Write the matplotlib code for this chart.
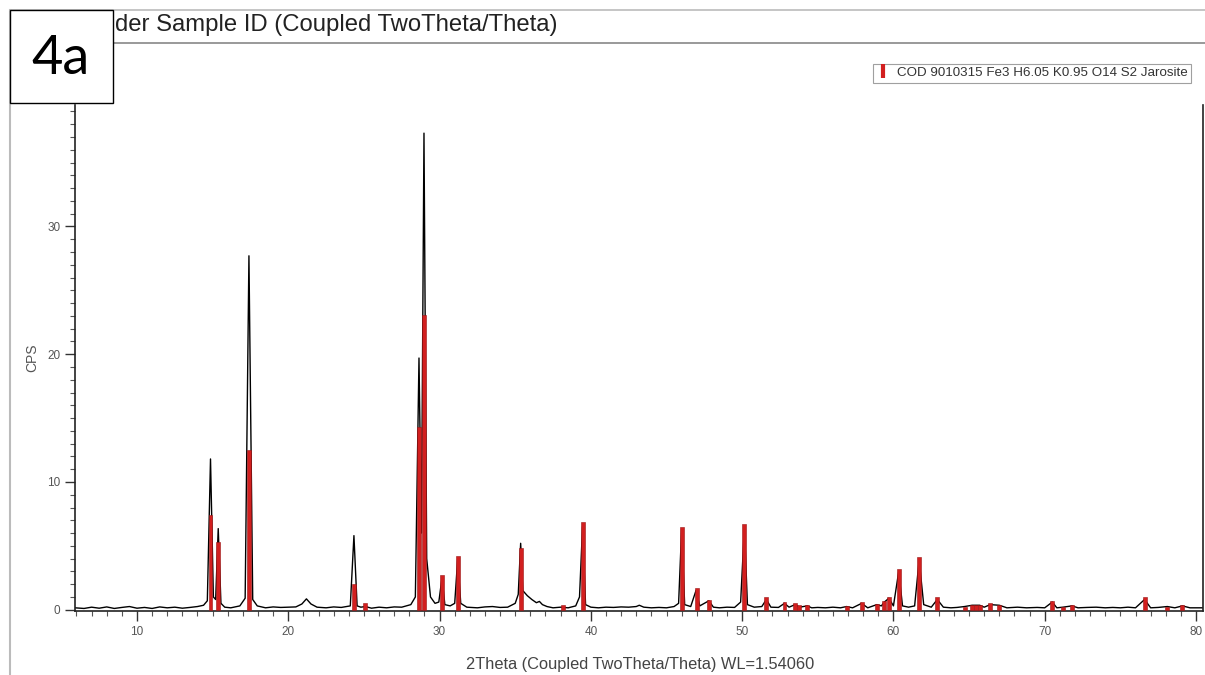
import matplotlib
matplotlib.use('Agg')
import matplotlib.pyplot as plt
from matplotlib.patches import Rectangle
from matplotlib.lines import Line2D
from matplotlib.ticker import MultipleLocator

plt.rcParams['font.family'] = ['Liberation Sans', 'DejaVu Sans']

# measured scan (2theta in degrees, counts per second)
scan_2theta = [5.9, 6.5, 7.0, 7.5, 8.0, 8.5, 9.0, 9.5, 10.0, 10.5, 11.0, 11.5, 12.0, 12.5, 13.0, 13.5, 14.0, 14.4,
               14.65, 14.86, 15.05, 15.2, 15.37, 15.55, 15.8, 16.2, 16.8, 17.15, 17.4, 17.65, 17.95, 18.5, 19.0,
               19.5, 20.0, 20.5, 20.9, 21.2, 21.5, 21.9, 22.5, 23.0, 23.5, 24.1, 24.34, 24.55, 24.8, 25.1, 25.5,
               26.0, 26.5, 27.0, 27.5, 28.1, 28.4, 28.64, 28.8, 28.97, 29.15, 29.4, 29.7, 29.95, 30.16, 30.35,
               30.7, 31.0, 31.2, 31.4, 31.8, 32.5, 33.0, 33.5, 34.0, 34.5, 35.0, 35.2, 35.36, 35.5, 35.8, 36.1,
               36.4, 36.6, 36.8, 37.1, 37.5, 38.0, 38.5, 39.0, 39.25, 39.45, 39.65, 40.0, 40.5, 41.0, 41.5, 42.0,
               42.5, 43.0, 43.2, 43.5, 44.0, 44.5, 45.0, 45.5, 45.8, 46.0, 46.2, 46.6, 46.95, 47.2, 47.8, 48.1,
               48.5, 49.0, 49.5, 49.9, 50.15, 50.35, 50.8, 51.3, 51.6, 51.9, 52.4, 52.8, 53.1, 53.5, 53.8, 54.3,
               54.6, 55.0, 55.5, 56.0, 56.5, 56.9, 57.3, 57.9, 58.3, 58.9, 59.2, 59.4, 59.7, 60.0, 60.35, 60.6,
               61.0, 61.4, 61.7, 62.0, 62.5, 62.9, 63.3, 63.8, 64.2, 64.7, 65.2, 65.7, 66.0, 66.4, 67.0, 67.5,
               68.2, 68.8, 69.5, 70.0, 70.5, 70.8, 71.2, 71.8, 72.2, 72.8, 73.4, 74.0, 74.5, 75.0, 75.5, 76.0,
               76.6, 77.0, 77.5, 78.1, 78.6, 79.1, 79.6, 80.45]
scan_cps = [0.15, 0.1, 0.2, 0.12, 0.22, 0.1, 0.18, 0.25, 0.12, 0.18, 0.1, 0.22, 0.15, 0.2, 0.12, 0.18, 0.25, 0.35,
            0.7, 11.8, 1.0, 0.8, 6.35, 0.5, 0.2, 0.15, 0.3, 0.9, 27.7, 0.8, 0.3, 0.15, 0.22, 0.18, 0.2, 0.22,
            0.45, 0.85, 0.45, 0.2, 0.15, 0.22, 0.18, 0.3, 5.8, 0.3, 0.2, 0.25, 0.12, 0.2, 0.15, 0.22, 0.2, 0.4,
            1.0, 19.7, 6.0, 37.3, 4.0, 1.0, 0.5, 0.6, 2.5, 0.4, 0.3, 0.5, 4.0, 0.5, 0.2, 0.15, 0.22, 0.25, 0.18,
            0.2, 0.5, 1.2, 5.2, 1.5, 1.1, 0.8, 0.55, 0.65, 0.4, 0.25, 0.15, 0.2, 0.15, 0.3, 1.0, 6.5, 0.4, 0.2,
            0.15, 0.2, 0.18, 0.22, 0.2, 0.25, 0.35, 0.2, 0.15, 0.18, 0.15, 0.25, 0.5, 6.3, 0.4, 0.25, 1.5, 0.3,
            0.7, 0.2, 0.15, 0.2, 0.18, 0.6, 6.5, 0.4, 0.2, 0.25, 0.8, 0.2, 0.18, 0.5, 0.2, 0.4, 0.2, 0.3, 0.15,
            0.18, 0.15, 0.2, 0.15, 0.25, 0.15, 0.5, 0.15, 0.4, 0.3, 0.6, 0.9, 0.3, 3.0, 0.3, 0.2, 0.3, 3.9, 0.4,
            0.2, 0.8, 0.2, 0.15, 0.18, 0.25, 0.35, 0.35, 0.2, 0.4, 0.35, 0.15, 0.2, 0.15, 0.18, 0.15, 0.6, 0.15,
            0.2, 0.3, 0.15, 0.18, 0.2, 0.15, 0.18, 0.15, 0.2, 0.15, 0.8, 0.15, 0.18, 0.25, 0.15, 0.3, 0.15, 0.15]

# reference stick pattern, COD 9010315 jarosite
ref_2theta = [14.86, 15.37, 17.4, 24.34, 25.1, 28.64, 29.0, 30.16, 31.2, 35.36, 38.15, 39.45, 46.0, 47.0, 47.8,
              50.15, 51.6, 52.8, 53.5, 53.75, 54.3, 56.9, 57.9, 58.9, 59.4, 59.7, 60.35, 61.7, 62.9, 64.7, 65.2,
              65.45, 65.7, 66.4, 67.0, 70.5, 71.2, 71.8, 76.6, 78.1, 79.1]
ref_cps = [7.4, 5.3, 12.5, 2.0, 0.5, 14.3, 23.1, 2.7, 4.2, 4.8, 0.35, 6.9, 6.5, 1.7, 0.8,
           6.7, 1.0, 0.6, 0.5, 0.4, 0.35, 0.3, 0.6, 0.45, 0.7, 1.0, 3.2, 4.1, 1.0, 0.25, 0.35,
           0.4, 0.4, 0.5, 0.4, 0.7, 0.2, 0.35, 1.0, 0.2, 0.35]

x_ticks = [10, 20, 30, 40, 50, 60, 70, 80]
y_ticks = [0, 10, 20, 30]

stick_red = '#d21f1f'
label_grey = '#555555'

fig = plt.figure(figsize=(12.05, 6.75), dpi=100)
ax = fig.add_axes([0.0622, 0.0948, 0.936, 0.7496])

ax.plot(scan_2theta, scan_cps, color='black', lw=1.0, zorder=2)
ax.bar(ref_2theta, ref_cps, width=0.26, color=stick_red, edgecolor='#9a1414', lw=0.4, zorder=3)

ax.set_xlim(5.9, 80.45)
ax.set_ylim(-0.1, 39.5)
ax.set_xticks(x_ticks)
ax.set_yticks(y_ticks)
ax.xaxis.set_minor_locator(MultipleLocator(1))
ax.yaxis.set_minor_locator(MultipleLocator(1))
ax.tick_params(which='major', length=7, width=1.0, color='#333333', labelsize=8.5, labelcolor=label_grey)
ax.tick_params(which='minor', length=3.5, width=0.8, color='#555555')
ax.spines['top'].set_visible(False)
for side in ('left', 'bottom', 'right'):
    ax.spines[side].set_linewidth(1.2)
    ax.spines[side].set_color('#222222')

ax.set_ylabel('CPS', fontsize=10, color=label_grey, labelpad=6)
fig.text(640 / 1205, 1 - 664 / 675, '2Theta (Coupled TwoTheta/Theta) WL=1.54060', fontsize=11.8,
         color='#444444', ha='center', va='center')

leg_handle = Line2D([], [], ls='none', marker='|', ms=10, mew=3, color=stick_red)
leg = ax.legend([leg_handle], ['COD 9010315 Fe3 H6.05 K0.95 O14 S2 Jarosite'], loc='center',
                bbox_to_anchor=(1032 / 1205, 1 - 73 / 675), bbox_transform=fig.transFigure, fontsize=9.6,
                frameon=True, fancybox=False, borderpad=0.25, handlelength=1.0, handletextpad=0.6,
                borderaxespad=0)
leg.get_frame().set_edgecolor('#888888')
leg.get_frame().set_linewidth(0.8)
for t in leg.get_texts():
    t.set_color('#333333')

# window frame lines around the plot panel
fig.add_artist(Line2D([10 / 1205, 1], [1 - 10 / 675] * 2, color='#bbbbbb', lw=1.2))
fig.add_artist(Line2D([10 / 1205] * 2, [0, 1 - 10 / 675], color='#bbbbbb', lw=1.5))
fig.add_artist(Line2D([113 / 1205, 1], [1 - 43 / 675] * 2, color='#888888', lw=1.2))

fig.text(115 / 1205, 1 - 25 / 675, 'der Sample ID (Coupled TwoTheta/Theta)', fontsize=17.2,
         color='#222222', va='center', ha='left')

# panel label box
fig.add_artist(Rectangle((10 / 1205, 1 - 103 / 675), 103 / 1205, 93 / 675, transform=fig.transFigure,
                         facecolor='white', edgecolor='black', lw=1.0, zorder=5))
fig.text(61 / 1205, 1 - 58 / 675, '4a', fontsize=39, family=['Lato', 'DejaVu Sans'],
         ha='center', va='center', color='black', zorder=6)

fig.savefig('out.png', dpi=100, facecolor='white')
